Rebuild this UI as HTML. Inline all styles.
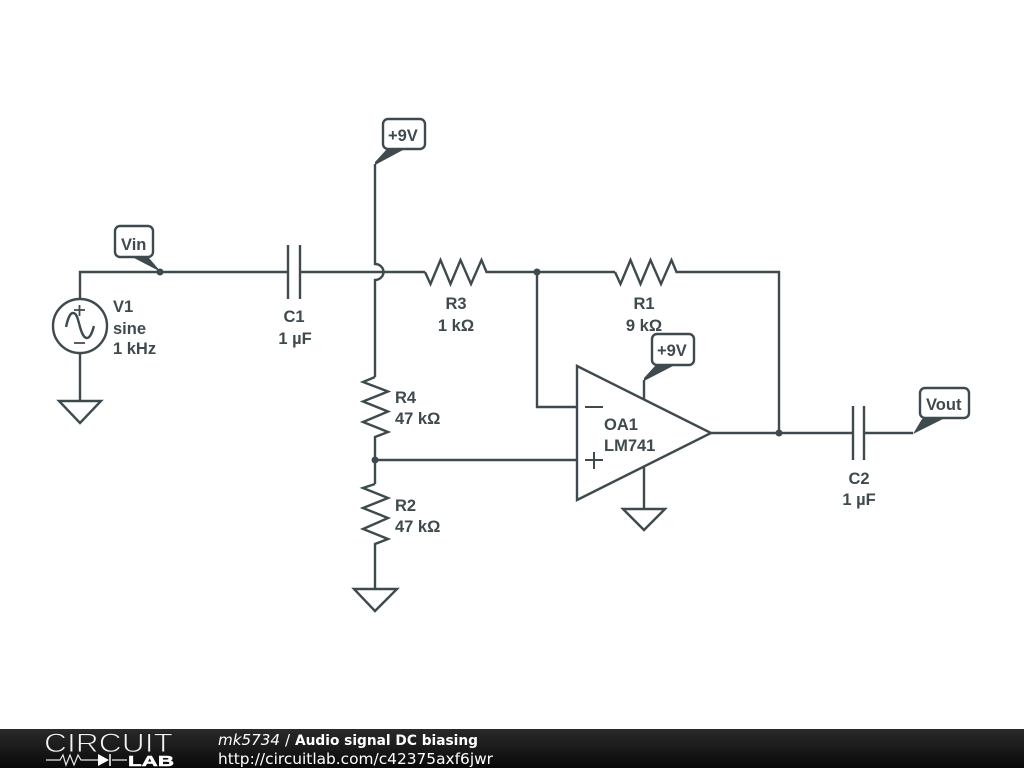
<!DOCTYPE html>
<html>
<head>
<meta charset="utf-8">
<style>
html,body{margin:0;padding:0;background:#fff;width:1024px;height:768px;overflow:hidden}
svg{display:block;position:absolute;left:0;top:0}
</style>
</head>
<body>
<svg width="1024" height="768" viewBox="0 0 1024 768" xmlns="http://www.w3.org/2000/svg">
<defs>
<linearGradient id="bar" x1="0" y1="0" x2="0" y2="1">
<stop offset="0" stop-color="#2a2a2a"/><stop offset="0.5" stop-color="#1a1a1a"/><stop offset="1" stop-color="#080808"/>
</linearGradient>
</defs>
<rect width="1024" height="768" fill="#fff"/>
<g fill="none" stroke="#3f4a4e" stroke-width="2.4" stroke-linejoin="miter">
<!-- input -->
<path d="M80 299V272H288"/>
<path d="M288 245V299M300 245V299"/>
<path d="M300 272H425"/>
<path d="M425 272L430.5 284L440.5 260L450.5 284L460.5 260L471 284L481.5 260L486.5 272H615"/>
<path d="M615 272L620.5 284L630.5 260L640.5 284L650.5 260L661 284L671.5 260L676.5 272H779V433"/>
<circle cx="80" cy="326" r="27"/>
<path d="M66 327C68 318 70 313 73 313C77 313 78 320 80 327C82 334 84 338 87 338C90 338 92 333 94 326"/>
<path d="M74 310H85M79.500 305V316M74 343H85" stroke-width="1.800"/>
<path d="M80 353V401M59 401H101L80 423Z"/>
<!-- vertical with hop -->
<path d="M375 164V264A8.500 8 0 0 1 375 280V377"/>
<path d="M375 377L363 382L388 391.500L363 401.500L388 411.500L363 422L388 432L375 437V484"/>
<path d="M375 484L363 488L388 498L363 508L388 518L363 529L388 539L375 544V589M354 589H397L375 611Z"/>
<path d="M375 460H577"/>
<!-- opamp -->
<path d="M577 366L711 433L577 500Z"/>
<path d="M537 272V407H577"/>
<path d="M585 407H603M585 460H603M594 452V469" stroke-width="2"/>
<path d="M644 400V380"/>
<path d="M644 467V509M623 509H665L644 530Z"/>
<!-- output -->
<path d="M711 433H853M853 406V460M864 406V460M864 433H913"/>
<!-- label boxes -->
<rect x="115" y="226" width="38" height="31" rx="5" fill="#fff"/>
<rect x="383" y="119" width="42" height="30" rx="5" fill="#fff"/>
<rect x="652" y="334" width="42" height="31" rx="5" fill="#fff"/>
<rect x="920" y="388" width="49" height="30" rx="5" fill="#fff"/>
</g>
<g fill="#3f4a4e">
<circle cx="160" cy="272" r="3.500"/>
<circle cx="537" cy="272" r="3.500"/>
<circle cx="375" cy="460" r="3.500"/>
<circle cx="779" cy="433" r="3.500"/>
<path d="M134 258H149L161 272Z"/>
<path d="M375 165V162L386 150H403Z"/>
<path d="M644 381V378L655 366H673Z"/>
<path d="M913 434L922 419H943Z"/>
</g>
<g font-family="'Liberation Sans',sans-serif" font-weight="700" font-size="16.500" fill="#3f4a4e">
<text x="121" y="250">Vin</text>
<text x="388" y="141">+9V</text>
<text x="657" y="356">+9V</text>
<text x="926" y="410">Vout</text>
<text x="113" y="312">V1</text>
<text x="113" y="334">sine</text>
<text x="113" y="354">1 kHz</text>
<text x="294" y="322" text-anchor="middle">C1</text>
<text x="295" y="344" text-anchor="middle">1 µF</text>
<text x="456" y="309" text-anchor="middle">R3</text>
<text x="456" y="331" text-anchor="middle">1 kΩ</text>
<text x="644" y="309" text-anchor="middle">R1</text>
<text x="644" y="331" text-anchor="middle">9 kΩ</text>
<text x="395" y="403">R4</text>
<text x="395" y="424">47 kΩ</text>
<text x="395" y="511">R2</text>
<text x="395" y="532">47 kΩ</text>
<text x="604" y="430">OA1</text>
<text x="604" y="451">LM741</text>
<text x="859" y="484" text-anchor="middle">C2</text>
<text x="859" y="505" text-anchor="middle">1 µF</text>
</g>
<!-- footer -->
<rect x="0" y="729" width="1024" height="39" fill="url(#bar)"/>
<text x="44" y="752" font-family="'Liberation Sans',sans-serif" font-size="27" fill="#f4f4f4" stroke="#1f1f1f" stroke-width="0.900" textLength="129" lengthAdjust="spacingAndGlyphs">CIRCUIT</text>
<path d="M46 760H60L63 755L66 765L70 755L74 765L78 755L81 760H99M112 760H127" fill="none" stroke="#e8e8e8" stroke-width="1.200"/>
<path d="M98 754V766L109 760Z" fill="#fff"/>
<path d="M110 754V766" stroke="#fff" stroke-width="1.500"/>
<text x="128" y="766" font-family="'Liberation Sans',sans-serif" font-weight="700" font-size="15" fill="#fff" stroke="#fff" stroke-width="0.500" textLength="46" lengthAdjust="spacingAndGlyphs">LAB</text>
<g font-family="'DejaVu Sans',sans-serif" fill="#fff">
<text x="218" y="745" font-size="15" font-style="italic" textLength="62" lengthAdjust="spacingAndGlyphs">mk5734</text>
<text x="285" y="745" font-size="15">/</text>
<text x="295" y="745" font-size="14" font-weight="700" textLength="183" lengthAdjust="spacingAndGlyphs">Audio signal DC biasing</text>
<text x="218" y="764" font-size="15.400" textLength="275" lengthAdjust="spacingAndGlyphs">http://circuitlab.com/c42375axf6jwr</text>
</g>
</svg>
</body>
</html>
